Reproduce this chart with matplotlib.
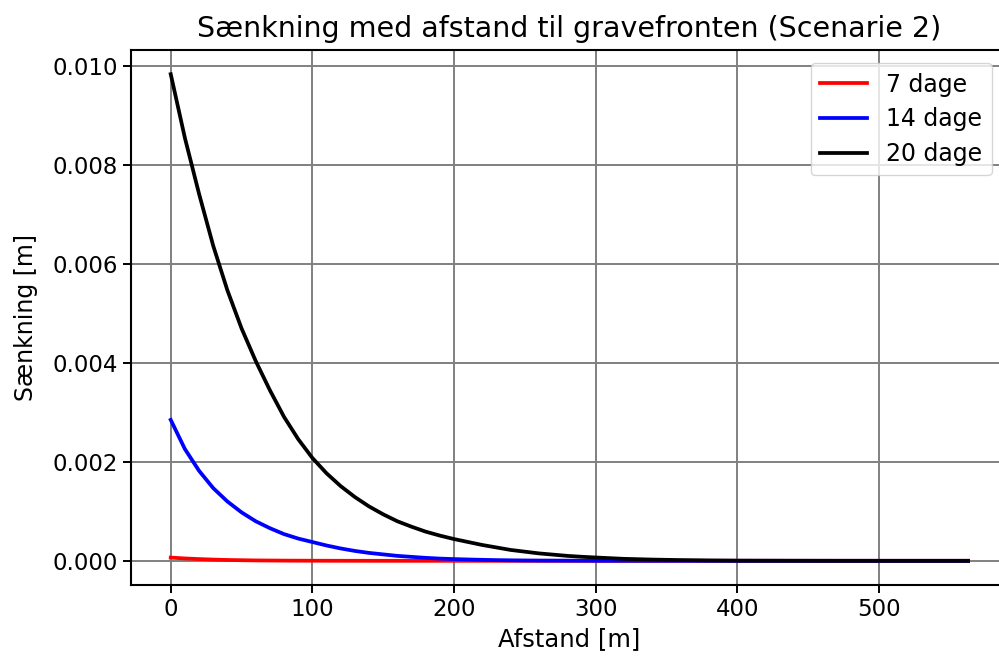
import matplotlib
matplotlib.use("Agg")
import matplotlib.pyplot as plt
import numpy as np

# Distance [m]
afstand = [0, 10, 20, 30, 40, 50, 60, 70, 80, 90, 100,
           110, 120, 130, 140, 150, 160, 170, 180, 190, 200,
           210, 220, 230, 240, 250, 260, 270, 280, 290, 300,
           320, 340, 360, 380, 400, 450, 500, 563]

# Drawdown [mm] (plotted in m)
dage_7 = [0.065, 0.048, 0.035, 0.025, 0.017, 0.012, 0.008, 0.006, 0.004, 0.003, 0.002,
          0.0015, 0.001, 0.0008, 0.0005, 0.0003, 0.0002, 0.0001, 0.0001, 0, 0,
          0, 0, 0, 0, 0, 0, 0, 0, 0, 0,
          0, 0, 0, 0, 0, 0, 0, 0]
dage_14 = [2.85, 2.26, 1.82, 1.47, 1.20, 0.98, 0.80, 0.66, 0.54, 0.45, 0.38,
           0.31, 0.25, 0.20, 0.16, 0.13, 0.10, 0.08, 0.06, 0.045, 0.035,
           0.027, 0.02, 0.014, 0.01, 0.007, 0.005, 0.004, 0.003, 0.002, 0.001,
           0.0005, 0.0002, 0, 0, 0, 0, 0, 0]
dage_20 = [9.84, 8.55, 7.42, 6.37, 5.47, 4.70, 4.04, 3.45, 2.91, 2.46, 2.08,
           1.77, 1.51, 1.29, 1.10, 0.94, 0.80, 0.69, 0.59, 0.51, 0.44,
           0.38, 0.32, 0.27, 0.22, 0.185, 0.15, 0.125, 0.10, 0.082, 0.067,
           0.04, 0.025, 0.015, 0.008, 0.004, 0.001, 0.0, 0.0]

series = [("7 dage", dage_7, "red"), ("14 dage", dage_14, "blue"), ("20 dage", dage_20, "black")]

plt.rcParams['font.family'] = ['DejaVu Sans']

fig = plt.figure(figsize=(9.99, 6.56), dpi=100)
ax = fig.add_axes([0.131, 0.108, 1.009 - 0.131, 0.924 - 0.108])

for label, vals, col in series:
    ax.plot(afstand, np.array(vals) * 1e-3, color=col, lw=2.7, label=label)

ax.set_xticks([0, 100, 200, 300, 400, 500])
ax.set_yticks([0.0, 0.002, 0.004, 0.006, 0.008, 0.010])
ax.yaxis.set_major_formatter(matplotlib.ticker.FormatStrFormatter('%.3f'))
ax.grid(True, color='#808080', lw=1.4)
ax.tick_params(labelsize=16.5, width=1.4, length=6)
for s in ax.spines.values():
    s.set_linewidth(1.5)

ax.set_title("Sænkning med afstand til gravefronten (Scenarie 2)", fontsize=20.5, pad=9)
ax.set_xlabel("Afstand [m]", fontsize=17.5, labelpad=4)
ax.set_ylabel("Sænkning [m]", fontsize=17, labelpad=10)
ax.legend(loc='upper right', bbox_to_anchor=(0.995, 0.997), fontsize=17, framealpha=0.8,
          handlelength=2.0, borderpad=0.4, labelspacing=0.45)

fig.savefig("out.png", dpi=100)
